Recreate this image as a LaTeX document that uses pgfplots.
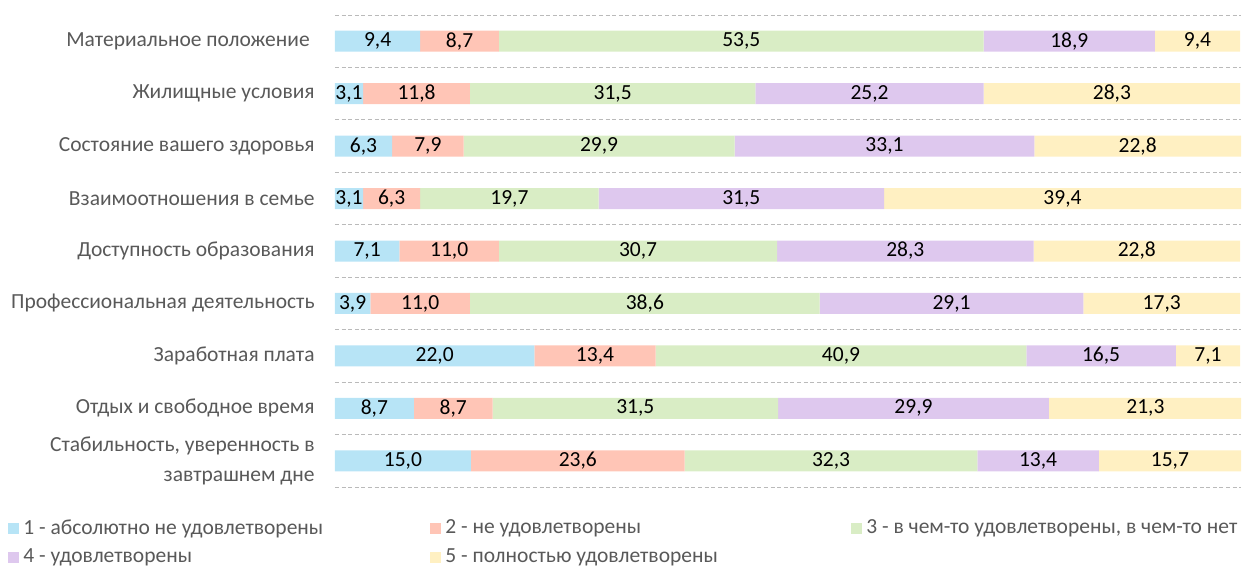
\documentclass[border=0pt]{standalone}
\usepackage{pgfplots}
\pgfplotsset{compat=1.18}
\usepackage{pgfplotstable}
\usepackage{fontspec}
\setmainfont{Carlito}
\definecolor{c1}{HTML}{B7E4F6}
\definecolor{c2}{HTML}{FFC5B6}
\definecolor{c3}{HTML}{D9EDC5}
\definecolor{c4}{HTML}{DEC8EE}
\definecolor{c5}{HTML}{FFF0C2}
\definecolor{lbl}{HTML}{595959}
\pgfplotsset{sq/.style={legend image code/.code={\fill[##1] (0pt,-2.75pt) rectangle (5.5pt,2.75pt);}}}
\pgfplotstableread{
y a b c d e
0 9.4 8.7 53.5 18.9 9.4
1 3.1 11.8 31.5 25.2 28.3
2 6.3 7.9 29.9 33.1 22.8
3 3.1 6.3 19.7 31.5 39.4
4 7.1 11.0 30.7 28.3 22.8
5 3.9 11.0 38.6 29.1 17.3
6 22.0 13.4 40.9 16.5 7.1
7 8.7 8.7 31.5 29.9 21.3
8 15.0 23.6 32.3 13.4 15.7
}\datatable
\begin{document}
\begin{tikzpicture}
\path (-167.5pt,-40.5pt) rectangle (453.5pt,243.5pt);
\begin{axis}[
  xbar stacked,
  scale only axis, width=453pt, height=236pt,
  xmin=0, xmax=100,
  ymin=-0.5, ymax=8.5, y dir=reverse,
  bar width=10.5pt,
  axis line style={draw=none},
  major tick length=0pt, minor tick length=0pt,
  xtick=\empty,
  ytick={0,...,8},
  yticklabels={{Материальное положение\ },{Жилищные условия},{Состояние вашего здоровья},{Взаимоотношения в семье},{Доступность образования},{Профессиональная деятельность},{Заработная плата},{Отдых и свободное время},{Стабильность, уверенность в\\завтрашнем дне}},
  yticklabel style={font=\fontsize{10.75}{15}\selectfont, text=lbl, align=right, inner sep=0pt, xshift=-10pt},
  minor ytick={-0.5,0.5,...,8.5},
  yminorgrids,
  minor grid style={draw=black!27, dash pattern=on 2pt off 1.3pt, line width=0.5pt},
  legend columns=3,
  legend cell align=left,
  legend style={draw=none, fill=none, at={(0,0)}, anchor=north west, xshift=-163.5pt, yshift=-14pt, inner sep=0pt, font=\fontsize{10.75}{13}\selectfont, text=lbl, row sep=2pt},
]
\addplot[fill=c1, draw=none, sq] table[x=a, y=y] {\datatable};
\addlegendentry{\makebox[201.5pt][l]{1 - абсолютно не удовлетворены}}
\addplot[fill=c2, draw=none, sq] table[x=b, y=y] {\datatable};
\addlegendentry{\makebox[201pt][l]{2 - не удовлетворены}}
\addplot[fill=c3, draw=none, sq] table[x=c, y=y] {\datatable};
\addlegendentry{3 - в чем-то удовлетворены, в чем-то нет}
\addplot[fill=c4, draw=none, sq] table[x=d, y=y] {\datatable};
\addlegendentry{\makebox[201.5pt][l]{4 - удовлетворены}}
\addplot[fill=c5, draw=none, sq] table[x=e, y=y] {\datatable};
\addlegendentry{\makebox[201pt][l]{5 - полностью удовлетворены}}
\end{axis}
\begin{axis}[
  scale only axis, width=453pt, height=236pt,
  xmin=0, xmax=100,
  ymin=-0.5, ymax=8.5, y dir=reverse,
  hide axis, clip=false,
  point meta=explicit,
  nodes near coords={\pgfmathprintnumber[fixed,fixed zerofill,precision=1,use comma,assume math mode=true]{\pgfplotspointmeta}},
  every node near coord/.append style={anchor=center, text=black, font=\fontsize{10.75}{13}\selectfont, inner sep=0pt},
]
\addplot[draw=none, mark=none] table[x expr=0.5*\thisrow{a}, y=y, meta=a] {\datatable};
\addplot[draw=none, mark=none] table[x expr=\thisrow{a}+0.5*\thisrow{b}, y=y, meta=b] {\datatable};
\addplot[draw=none, mark=none] table[x expr=\thisrow{a}+\thisrow{b}+0.5*\thisrow{c}, y=y, meta=c] {\datatable};
\addplot[draw=none, mark=none] table[x expr=\thisrow{a}+\thisrow{b}+\thisrow{c}+0.5*\thisrow{d}, y=y, meta=d] {\datatable};
\addplot[draw=none, mark=none] table[x expr=\thisrow{a}+\thisrow{b}+\thisrow{c}+\thisrow{d}+0.5*\thisrow{e}, y=y, meta=e] {\datatable};
\end{axis}
\end{tikzpicture}
\end{document}
